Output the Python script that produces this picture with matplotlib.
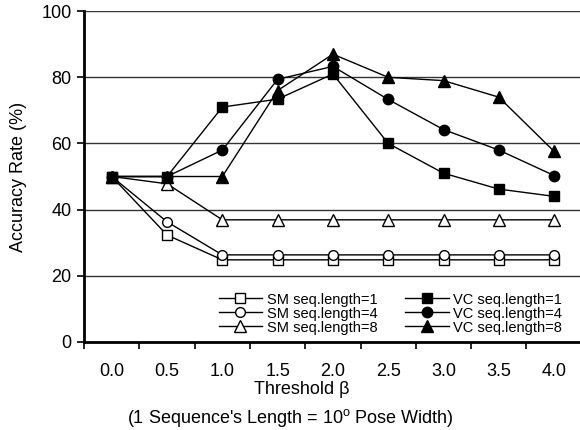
import numpy as np
import matplotlib
matplotlib.use("Agg")
import matplotlib.pyplot as plt

plt.rcParams["font.family"] = ["Liberation Sans", "DejaVu Sans"]
plt.rcParams["mathtext.fontset"] = "custom"
plt.rcParams["mathtext.rm"] = "Liberation Sans"

thresholds = ["0.0", "0.5", "1.0", "1.5", "2.0", "2.5", "3.0", "3.5", "4.0"]

sm_len1 = [50, 32.3, 24.8, 24.8, 24.8, 24.8, 24.8, 24.8, 24.8]
sm_len4 = [50, 36.3, 26.3, 26.3, 26.3, 26.3, 26.3, 26.3, 26.3]
sm_len8 = [50, 47.8, 36.9, 36.9, 36.9, 36.9, 36.9, 36.9, 36.9]
vc_len1 = [50, 50, 71, 73.4, 81, 60, 51, 46.2, 44]
vc_len4 = [50, 50, 58, 79.4, 83.3, 73.3, 64.2, 58, 50.3]
vc_len8 = [50, 50, 50, 76, 87, 80, 79, 74, 57.6]

series = [
    ("SM seq.length=1", sm_len1, "s", "white", 7),
    ("SM seq.length=4", sm_len4, "o", "white", 7),
    ("SM seq.length=8", sm_len8, "^", "white", 8),
    ("VC seq.length=1", vc_len1, "s", "black", 7.5),
    ("VC seq.length=4", vc_len4, "o", "black", 7.5),
    ("VC seq.length=8", vc_len8, "^", "black", 9),
]

fig = plt.figure(figsize=(5.8, 4.3), dpi=100)
ax = fig.add_axes([0.145, 0.205, 0.858, 0.769])

x = np.arange(len(thresholds))
for label, vals, marker, face, ms in series:
    ax.plot(x, vals, color="black", lw=1.0, marker=marker, markersize=ms,
            markerfacecolor=face, markeredgecolor="black", markeredgewidth=1.0,
            label=label, zorder=3, clip_on=False)

ax.set_xlim(-0.5, len(thresholds) - 0.5)
ax.set_ylim(0, 100)
ax.set_yticks([0, 20, 40, 60, 80, 100])
ax.yaxis.grid(True, color="#333333", lw=1.0)
ax.set_axisbelow(True)

ax.set_xticks(x)
ax.set_xticklabels(thresholds)
ax.set_xticks(np.arange(-0.5, len(thresholds), 1.0), minor=True)
ax.tick_params(axis="x", which="major", length=0, pad=15, labelsize=13)
ax.tick_params(axis="x", which="minor", length=5, width=1.2, direction="out")
ax.tick_params(axis="y", length=5, width=1.2, pad=4, labelsize=13)

for side in ["top", "right"]:
    ax.spines[side].set_visible(False)
ax.spines["left"].set_linewidth(2)
ax.spines["bottom"].set_linewidth(2)

ax.set_ylabel("Accuracy Rate (%)", fontsize=13, labelpad=10)

fig.text(0.52, 0.095, "Threshold β", ha="center", va="center", fontsize=13)
fig.text(0.5, 0.028, "(1 Sequence's Length = 10$^\\mathrm{o}$ Pose Width)",
         ha="center", va="center", fontsize=13)

ax.legend(loc="lower right", bbox_to_anchor=(0.975, 0.0), ncol=2, frameon=False,
          fontsize=10.5, handlelength=3.0, handletextpad=0.3,
          columnspacing=1.9, labelspacing=0.0, borderaxespad=0.1)

fig.savefig("out.png", dpi=100)
